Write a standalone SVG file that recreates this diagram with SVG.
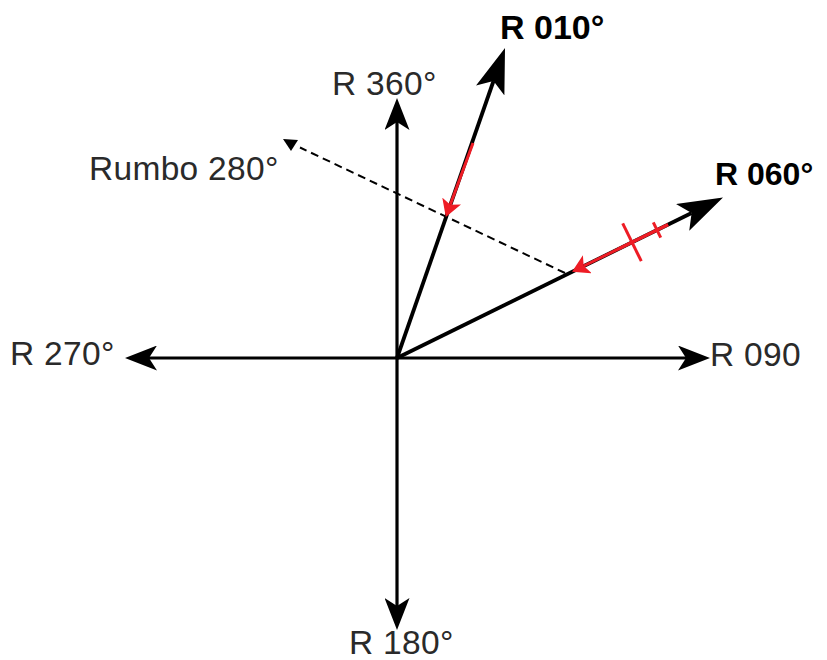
<svg xmlns="http://www.w3.org/2000/svg" width="827" height="660" viewBox="0 0 827 660">
<style>
.lbl{font-family:"Liberation Sans",Arial,sans-serif;font-size:33.5px;letter-spacing:0.3px;fill:#2a2a2a;}
.bold{font-family:"Liberation Sans",Arial,sans-serif;font-weight:bold;fill:#000;}
.axis{stroke:#000;stroke-width:3.2;fill:none;}
.course{stroke:#000;stroke-width:3.8;fill:none;}
.red{stroke:#ee1c25;stroke-width:3;fill:none;}
.dash{stroke:#000;stroke-width:2;stroke-dasharray:8 5;fill:none;}
</style>
<defs>
<marker id="ax" markerUnits="userSpaceOnUse" viewBox="0 0 32 25" refX="8" refY="12.5" markerWidth="32" markerHeight="25" orient="auto">
<path d="M0,0 L32,12.5 L0,25 L8,12.5 Z" fill="#000"/>
</marker>
<marker id="big" markerUnits="userSpaceOnUse" viewBox="0 0 45 30" refX="10" refY="15" markerWidth="45" markerHeight="30" orient="auto">
<path d="M0,0 L45,15 L0,30 L10,15 Z" fill="#000"/>
</marker>
<marker id="redh" markerUnits="userSpaceOnUse" viewBox="0 0 17 20" refX="4" refY="10" markerWidth="17" markerHeight="20" orient="auto">
<path d="M0,0 L17,10 L0,20 L4,10 Z" fill="#ee1c25"/>
</marker>
</defs>
<g id="connectors">
<line class="axis" x1="397" y1="358" x2="397" y2="122" marker-end="url(#ax)"/>
<line class="axis" x1="397" y1="358" x2="397" y2="606" marker-end="url(#ax)"/>
<line class="axis" x1="397" y1="358" x2="149" y2="358" marker-end="url(#ax)"/>
<line class="axis" x1="397" y1="358" x2="686" y2="358" marker-end="url(#ax)"/>
<line class="course" x1="397" y1="358" x2="493.5" y2="81" marker-end="url(#big)"/>
<line class="course" x1="397" y1="358" x2="691.6" y2="213" marker-end="url(#big)"/>
<line class="dash" x1="565" y1="273" x2="300" y2="147.5"/>
<polygon points="283,139 298,140 291,151" fill="#000"/>
<line class="red" x1="473" y1="143" x2="450.3" y2="204.8" marker-end="url(#redh)"/>
<line class="red" stroke-width="2.5" x1="668" y1="224.6" x2="583.7" y2="266" marker-end="url(#redh)"/>
<line class="red" stroke-width="5" x1="618" y1="249.2" x2="668" y2="224.6"/>
<line class="red" x1="622.7" y1="223.4" x2="641.3" y2="261.2"/>
<line class="red" x1="653.3" y1="222.3" x2="660.7" y2="237.7"/>
</g>
<g id="n360"><text class="lbl" x="332" y="95">R 360°</text></g>
<g id="n180"><text class="lbl" x="349" y="654">R 180°</text></g>
<g id="n270"><text class="lbl" x="10" y="365">R 270°</text></g>
<g id="n090"><text class="lbl" x="710" y="366">R 090</text></g>
<g id="n280"><text class="lbl" x="89" y="180">Rumbo 280°</text></g>
<g id="n010"><text class="bold" font-size="34" x="500" y="39">R 010°</text></g>
<g id="n060"><text class="bold" font-size="32" x="715" y="185">R 060°</text></g>
</svg>
